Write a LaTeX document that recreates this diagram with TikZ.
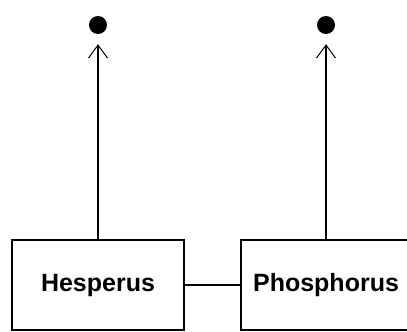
\documentclass[tikz,border=0pt]{standalone}
\usepackage{fontspec}
\setmainfont{Liberation Sans}
\usetikzlibrary{arrows.meta}

\begin{document}
\begin{tikzpicture}[
                x=1pt,y=-1pt,
                box/.style={draw,line width=1.2pt,minimum height=90pt,inner sep=0pt,font=\fontsize{25}{29}\selectfont\bfseries},
                planet/.style={circle,fill,inner sep=0pt,minimum size=18pt},
                points/.style={-{Straight Barb[length=13pt,width=19pt,line width=1pt]},line width=1.1pt}
            ]
                \useasboundingbox (0,0) rectangle (407,332);
                \clip (0,0) rectangle (407,332);
                \node [box,minimum width=172pt] (hesperus) at (98,285) {Hesperus};
                \node [box,minimum width=176pt] (phosphorus) at (329,285) {\hspace*{-6pt}Phosphorus};
                \node [planet] (hdot) at (98,25) {};
                \node [planet] (pdot) at (326,25) {};
                \draw [points,shorten >=10pt] (phosphorus.north -| pdot) -- (pdot);
                \draw [points,shorten >=10pt] (hesperus) -- (hdot);
                \draw [line width=1.1pt] (hesperus) -- (phosphorus);
            \end{tikzpicture}
\end{document}
